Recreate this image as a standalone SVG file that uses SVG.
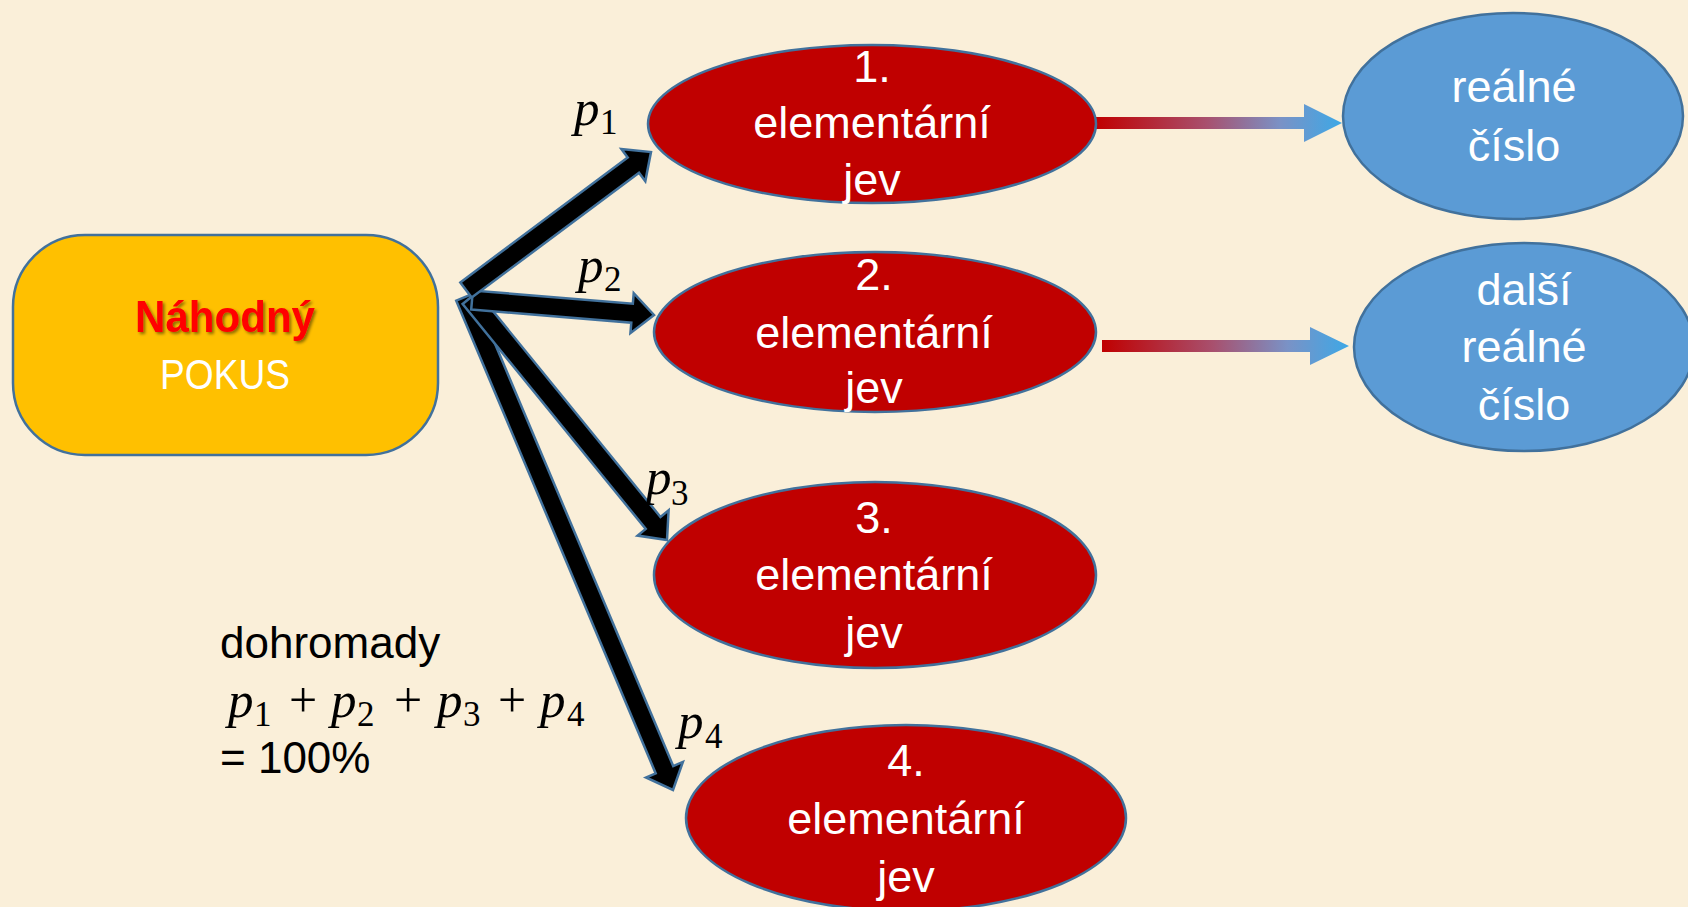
<svg xmlns="http://www.w3.org/2000/svg" width="1688" height="907" viewBox="0 0 1688 907">
<defs>
<style>
.bg{fill:#FAEFD9}
.red{fill:#C00000;stroke:#41719C;stroke-width:2.5}
.blue{fill:#5B9BD5;stroke:#41719C;stroke-width:2.5}
.box{fill:#FFC000;stroke:#41719C;stroke-width:2.5}
.wt{font-family:"Liberation Sans",Arial,sans-serif;font-size:45px;fill:#FFFFFF;text-anchor:middle}
.bt{font-family:"Liberation Sans",Arial,sans-serif;font-size:44px;fill:#000000}
.blk{fill:#000000;stroke:#41719C;stroke-width:2.5;stroke-linejoin:miter}
.m{font-family:"Liberation Serif","Times New Roman",serif;font-size:51px;fill:#000000;font-style:italic}
.s{font-family:"Liberation Serif","Times New Roman",serif;font-size:35px;font-style:normal}
.pl{font-family:"Liberation Serif","Times New Roman",serif;font-size:50px;fill:#000000;font-style:normal}
</style>
<linearGradient id="g1" gradientUnits="userSpaceOnUse" x1="1096" y1="0" x2="1342" y2="0">
<stop offset="0" stop-color="#C00000"/>
<stop offset="0.45" stop-color="#A8506E"/>
<stop offset="0.75" stop-color="#7A92C6"/>
<stop offset="1" stop-color="#3DA8E6"/>
</linearGradient>
<linearGradient id="g2" gradientUnits="userSpaceOnUse" x1="1102" y1="0" x2="1349" y2="0">
<stop offset="0" stop-color="#C00000"/>
<stop offset="0.45" stop-color="#A8506E"/>
<stop offset="0.75" stop-color="#7A92C6"/>
<stop offset="1" stop-color="#3DA8E6"/>
</linearGradient>
<filter id="sh" x="-10%" y="-20%" width="120%" height="150%">
<feDropShadow dx="2" dy="2" stdDeviation="1.5" flood-color="#000000" flood-opacity="0.45"/>
</filter>
</defs>
<rect class="bg" x="0" y="0" width="1688" height="907"/>

<g id="connectors">
<polygon class="blk" points="456.25,300.69 655.70,773.42 646.02,777.50 673,790 682.88,761.96 673.20,766.04 473.75,293.31"/>
<polygon class="blk" points="462.63,304.00 645.74,528.94 637.60,535.57 667,540 668.62,510.31 660.48,516.94 477.37,292.00"/>
<polygon class="blk" points="471.22,309.47 631.29,322.66 630.43,333.12 654,315 633.71,293.26 632.85,303.72 472.78,290.53"/>
<polygon class="blk" points="471.68,297.62 639.04,172.77 645.32,181.18 651,152 621.40,149.12 627.68,157.53 460.32,282.38"/>
<polygon fill="url(#g1)" points="1096,117 1304,117 1304,104 1342,123 1304,142 1304,129 1096,129"/>
<polygon fill="url(#g2)" points="1102,340 1310,340 1310,327 1349,346 1310,365 1310,352 1102,352"/>
</g>

<g id="labels">
<text class="m" x="574" y="125">p<tspan class="s" x="600" y="134">1</tspan></text>
<text class="m" x="578" y="282">p<tspan class="s" x="604" y="291">2</tspan></text>
<text class="m" x="646" y="494">p<tspan class="s" x="671" y="505">3</tspan></text>
<text class="m" x="678" y="738">p<tspan class="s" x="705" y="748">4</tspan></text>
</g>

<g id="pokus">
<rect class="box" x="13" y="235" width="425" height="220" rx="72" ry="72"/>
<text x="225" y="332" font-family="'Liberation Sans',Arial,sans-serif" font-size="44" font-weight="bold" fill="#FF0000" text-anchor="middle" filter="url(#sh)" textLength="180" lengthAdjust="spacingAndGlyphs">Náhodný</text>
<text x="225" y="389" font-family="'Liberation Sans',Arial,sans-serif" font-size="43" fill="#FFFFFF" text-anchor="middle" textLength="130" lengthAdjust="spacingAndGlyphs">POKUS</text>
</g>

<g id="jev1">
<ellipse class="red" cx="872" cy="124" rx="224" ry="79"/>
<text class="wt" x="872" y="82">1.</text>
<text class="wt" x="872" y="138">elementární</text>
<text class="wt" x="872" y="195">jev</text>
</g>
<g id="jev2">
<ellipse class="red" cx="875" cy="332" rx="221" ry="80"/>
<text class="wt" x="874" y="290">2.</text>
<text class="wt" x="874" y="348">elementární</text>
<text class="wt" x="874" y="403">jev</text>
</g>
<g id="jev3">
<ellipse class="red" cx="875" cy="575" rx="221" ry="93"/>
<text class="wt" x="874" y="533">3.</text>
<text class="wt" x="874" y="590">elementární</text>
<text class="wt" x="874" y="648">jev</text>
</g>
<g id="jev4">
<ellipse class="red" cx="906" cy="818" rx="220" ry="93"/>
<text class="wt" x="906" y="776">4.</text>
<text class="wt" x="906" y="834">elementární</text>
<text class="wt" x="906" y="892">jev</text>
</g>

<g id="cislo1">
<ellipse class="blue" cx="1513" cy="116" rx="170" ry="103"/>
<text class="wt" x="1514" y="102" font-size="44">reálné</text>
<text class="wt" x="1514" y="161" font-size="44">číslo</text>
</g>
<g id="cislo2">
<ellipse class="blue" cx="1524" cy="347" rx="170" ry="104"/>
<text class="wt" x="1524" y="305" font-size="44">další</text>
<text class="wt" x="1524" y="362" font-size="44">reálné</text>
<text class="wt" x="1524" y="420" font-size="44">číslo</text>
</g>

<g id="soucet">
<text class="bt" x="220" y="658">dohromady</text>
<text class="m" x="228" y="717">p<tspan class="s" x="254" y="726">1</tspan></text>
<text class="pl" x="303" y="717" text-anchor="middle">+</text>
<text class="m" x="331" y="717">p<tspan class="s" x="357" y="726">2</tspan></text>
<text class="pl" x="408" y="717" text-anchor="middle">+</text>
<text class="m" x="437" y="717">p<tspan class="s" x="463" y="726">3</tspan></text>
<text class="pl" x="512" y="717" text-anchor="middle">+</text>
<text class="m" x="540" y="717">p<tspan class="s" x="567" y="726">4</tspan></text>
<text class="bt" x="220" y="773">= 100%</text>
</g>
</svg>
